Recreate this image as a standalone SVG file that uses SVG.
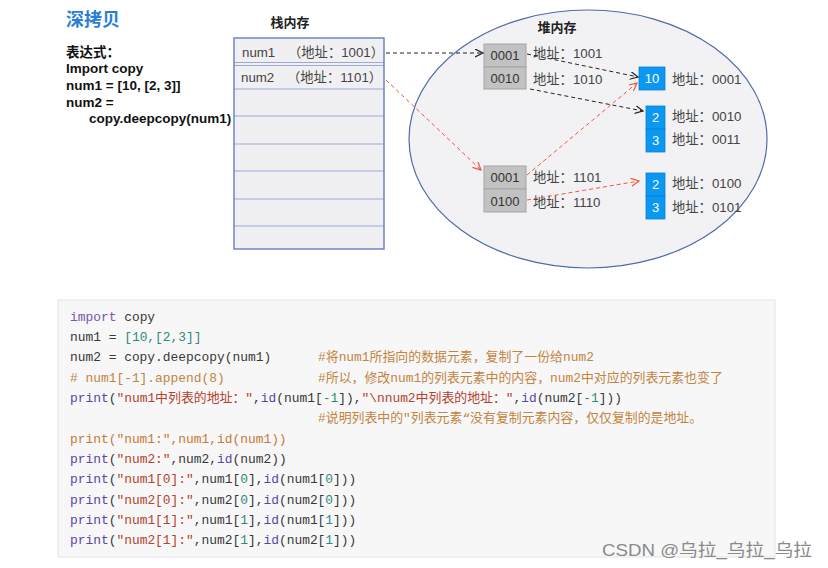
<svg xmlns="http://www.w3.org/2000/svg" width="828" height="568" viewBox="0 0 828 568">
<style>
.sans{font-family:"Liberation Sans","Noto Sans CJK SC",sans-serif}
.bold{font-weight:bold}
.lbl{font-family:"Liberation Sans","Noto Sans CJK SC",sans-serif;font-size:13.3px;fill:#444}
.cell{font-family:"Liberation Sans","Noto Sans CJK SC",sans-serif;font-size:13px;fill:#333;text-anchor:middle}
.bcell{font-family:"Liberation Sans","Noto Sans CJK SC",sans-serif;font-size:13px;fill:#fff;text-anchor:middle}
.gray{fill:#c2c2c2;stroke:#a3a3a3;stroke-width:1}
.blue{fill:#0a98f2;stroke:#0a7fd0;stroke-width:0.8}
.rl{stroke:#9aaad4;stroke-width:1}
.code{font-family:"Liberation Mono","Noto Sans CJK SC",monospace;font-size:12.9px;fill:#383838}
.kw{fill:#7d52a9}
.fn{fill:#5646a6}
.str{fill:#b2432d}
.num{fill:#2f8a79}
.cm{fill:#c2843f}
.or{fill:#c47a36}
.dk{stroke:#222;stroke-width:1;fill:none;stroke-dasharray:4 3}
.rd{stroke:#f0573a;stroke-width:1;fill:none;stroke-dasharray:4 3}
</style>
<defs>
<marker id="ab" markerWidth="10" markerHeight="10" refX="8" refY="4" orient="auto" markerUnits="userSpaceOnUse">
<path d="M0,0 L8,4 L0,8" fill="none" stroke="#222" stroke-width="1.2"/>
</marker>
<marker id="ar" markerWidth="10" markerHeight="10" refX="8" refY="4" orient="auto" markerUnits="userSpaceOnUse">
<path d="M0,0 L8,4 L0,8" fill="none" stroke="#f0573a" stroke-width="1.2"/>
</marker>
</defs>
<rect width="828" height="568" fill="#ffffff"/>

<g id="title">
<text x="66" y="26" class="sans bold" font-size="18" fill="#2a7fd4">深拷贝</text>
</g>
<g id="expression" class="sans bold" font-size="13.5" fill="#111">
<text x="66" y="57">表达式：</text>
<text x="66" y="73">Import copy</text>
<text x="66" y="90">num1 = [10, [2, 3]]</text>
<text x="66" y="107">num2 =</text>
<text x="89" y="123">copy.deepcopy(num1)</text>
</g>

<g id="stack">
<text x="290" y="27" class="sans bold" font-size="13" fill="#222" text-anchor="middle">栈内存</text>
<rect x="234" y="38" width="150" height="211" fill="#f0f0f3"/>
<line class="rl" x1="234" y1="62.5" x2="384" y2="62.5"/>
<line class="rl" x1="234" y1="65.5" x2="384" y2="65.5"/>
<line class="rl" x1="234" y1="89" x2="384" y2="89"/>
<line class="rl" x1="234" y1="116" x2="384" y2="116"/>
<line class="rl" x1="234" y1="144" x2="384" y2="144"/>
<line class="rl" x1="234" y1="171" x2="384" y2="171"/>
<line class="rl" x1="234" y1="199" x2="384" y2="199"/>
<line class="rl" x1="234" y1="226" x2="384" y2="226"/>
<rect x="234" y="38" width="150" height="211" fill="none" stroke="#6f86c2" stroke-width="1.5"/>
<text x="242" y="57" class="lbl" fill="#555">num1</text>
<text x="288" y="57" class="lbl" fill="#555">（地址：1001）</text>
<text x="241" y="82" class="lbl" fill="#555">num2</text>
<text x="287" y="82" class="lbl" fill="#555">（地址：1101）</text>
</g>

<g id="heap">
<ellipse cx="588" cy="139" rx="179" ry="129" fill="#f2f2f4" stroke="#4f6aa8" stroke-width="1.2"/>
<text x="557" y="32" class="sans bold" font-size="13" fill="#222" text-anchor="middle">堆内存</text>
</g>

<g id="list-num1">
<rect class="gray" x="484" y="44" width="42" height="23"/>
<rect class="gray" x="484" y="67" width="42" height="22"/>
<text x="505" y="60" class="cell">0001</text>
<text x="505" y="83" class="cell">0010</text>
<text x="533" y="58" class="lbl">地址：1001</text>
<text x="533" y="84" class="lbl">地址：1010</text>
</g>

<g id="list-num2">
<rect class="gray" x="484" y="166" width="42" height="23"/>
<rect class="gray" x="484" y="189" width="42" height="23"/>
<text x="505" y="182" class="cell">0001</text>
<text x="505" y="206" class="cell">0100</text>
<text x="533" y="182" class="lbl">地址：1101</text>
<text x="533" y="207" class="lbl">地址：1110</text>
</g>

<g id="int-10">
<rect class="blue" x="639" y="67" width="26" height="23"/>
<text x="652" y="83" class="bcell">10</text>
<text x="672" y="84" class="lbl">地址：0001</text>
</g>

<g id="inner-list-1">
<rect class="blue" x="646" y="106" width="19" height="23"/>
<rect class="blue" x="646" y="129" width="19" height="23"/>
<text x="655.5" y="122" class="bcell">2</text>
<text x="655.5" y="145" class="bcell">3</text>
<text x="672" y="121" class="lbl">地址：0010</text>
<text x="672" y="144" class="lbl">地址：0011</text>
</g>

<g id="inner-list-2">
<rect class="blue" x="646" y="173" width="19" height="23"/>
<rect class="blue" x="646" y="196" width="19" height="23"/>
<text x="655.5" y="189" class="bcell">2</text>
<text x="655.5" y="212" class="bcell">3</text>
<text x="672" y="188" class="lbl">地址：0100</text>
<text x="672" y="212" class="lbl">地址：0101</text>
</g>

<g id="connectors">
<path class="dk" d="M386,53 L483,53" marker-end="url(#ab)"/>
<path class="rd" d="M386,80 L481,170" marker-end="url(#ar)"/>
<path class="dk" d="M527,54 L638,77" marker-end="url(#ab)"/>
<path class="dk" d="M530,89 L643,111" marker-end="url(#ab)"/>
<path class="rd" d="M527,175 L637,83" marker-end="url(#ar)"/>
<path class="rd" d="M527,200 L639,181" marker-end="url(#ar)"/>
</g>

<g id="code">
<rect x="58" y="300" width="717" height="257" fill="#f7f7f8" stroke="#e4e4e7" stroke-width="1"/>
<text x="70" y="321" class="code"><tspan class="kw">import</tspan> copy</text>
<text x="70" y="341" class="code">num1 = <tspan class="num">[10,[2,3]]</tspan></text>
<text x="70" y="361" class="code">num2 = copy.deepcopy(num1)</text>
<text x="318" y="361" class="code cm">#将num1所指向的数据元素，复制了一份给num2</text>
<text x="70" y="382" class="code cm"># num1[-1].append(8)</text>
<text x="318" y="382" class="code cm">#所以，修改num1的列表元素中的内容，num2中对应的列表元素也变了</text>
<text x="70" y="402" class="code"><tspan class="fn">print</tspan>(<tspan class="str">"num1中列表的地址："</tspan>,<tspan class="fn">id</tspan>(num1[<tspan class="num">-1</tspan>]),<tspan class="str">"\nnum2中列表的地址："</tspan>,<tspan class="fn">id</tspan>(num2[<tspan class="num">-1</tspan>]))</text>
<text x="318" y="422" class="code cm">#说明列表中的"列表元素“没有复制元素内容，仅仅复制的是地址。</text>
<text x="70" y="443" class="code or">print("num1:",num1,id(num1))</text>
<text x="70" y="463" class="code"><tspan class="fn">print</tspan>(<tspan class="str">"num2:"</tspan>,num2,<tspan class="fn">id</tspan>(num2))</text>
<text x="70" y="483" class="code"><tspan class="fn">print</tspan>(<tspan class="str">"num1[0]:"</tspan>,num1[<tspan class="num">0</tspan>],<tspan class="fn">id</tspan>(num1[<tspan class="num">0</tspan>]))</text>
<text x="70" y="504" class="code"><tspan class="fn">print</tspan>(<tspan class="str">"num2[0]:"</tspan>,num2[<tspan class="num">0</tspan>],<tspan class="fn">id</tspan>(num2[<tspan class="num">0</tspan>]))</text>
<text x="70" y="524" class="code"><tspan class="fn">print</tspan>(<tspan class="str">"num1[1]:"</tspan>,num1[<tspan class="num">1</tspan>],<tspan class="fn">id</tspan>(num1[<tspan class="num">1</tspan>]))</text>
<text x="70" y="544" class="code"><tspan class="fn">print</tspan>(<tspan class="str">"num2[1]:"</tspan>,num2[<tspan class="num">1</tspan>],<tspan class="fn">id</tspan>(num2[<tspan class="num">1</tspan>]))</text>
</g>

<g id="watermark">
<text x="602" y="556" class="sans" font-size="17" fill="#8a8a8a" textLength="210" lengthAdjust="spacingAndGlyphs">CSDN @乌拉_乌拉_乌拉</text>
</g>
</svg>
